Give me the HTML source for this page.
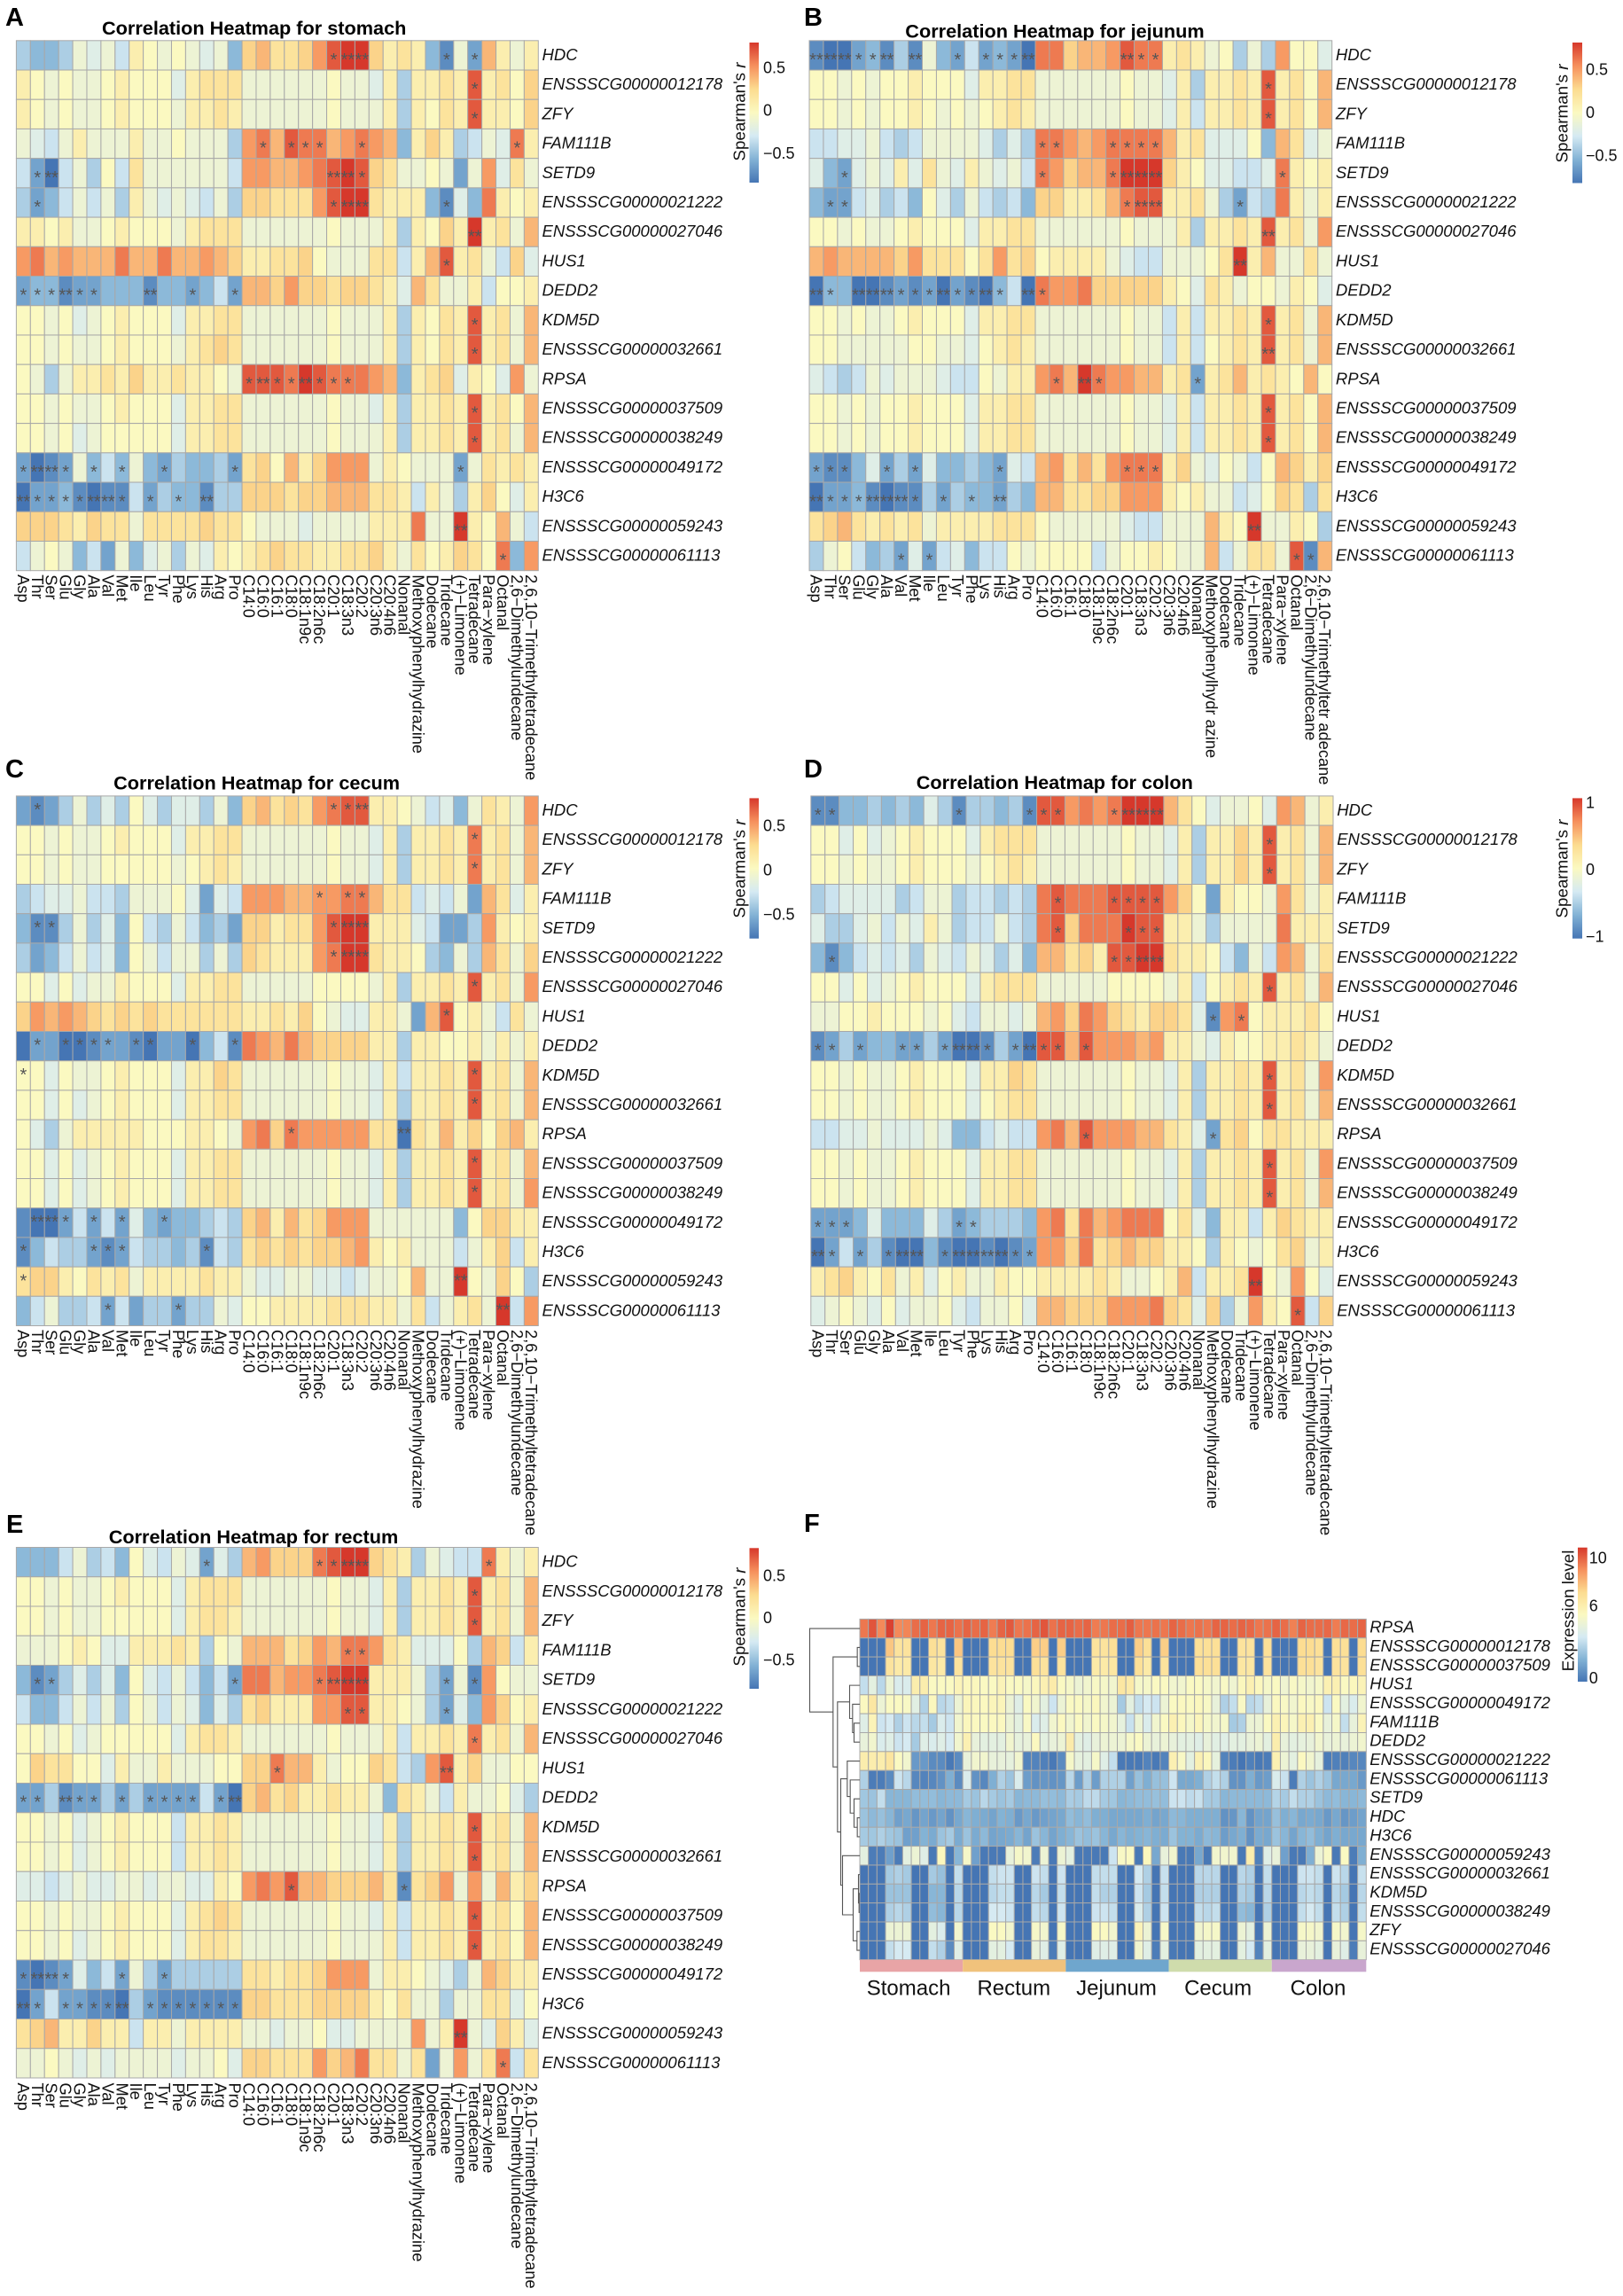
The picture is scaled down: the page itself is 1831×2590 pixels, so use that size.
<!DOCTYPE html>
<html lang="en">
<head>
<meta charset="utf-8">
<title>Correlation heatmaps</title>
<style>
html,body{margin:0;padding:0;background:#fff;width:1831px;height:2590px;overflow:hidden}
svg{display:block;font-family:"Liberation Sans",sans-serif}
.letter{font-weight:700;font-size:29px;fill:#000}
.title{font-weight:700;font-size:21.7px;fill:#000;text-anchor:middle}
.rowl{font-style:italic;font-size:18.5px;fill:#111;dominant-baseline:central}
.coll{font-size:18.25px;fill:#111;dominant-baseline:central}
.tick{font-size:18px;fill:#111;dominant-baseline:central}
.ltitle{font-size:18.8px;fill:#111;text-anchor:middle}
.star{font-size:20px;fill:#555;text-anchor:middle}
.group{font-size:24px;fill:#111;text-anchor:middle;dominant-baseline:central}
</style>
</head>
<body>
<svg id="figure" xmlns="http://www.w3.org/2000/svg" width="1831" height="2590" viewBox="0 0 1831 2590">
<defs>
<linearGradient id="ramp" x1="0" y1="1" x2="0" y2="0">
<stop offset="0" stop-color="#4575b4"/><stop offset=".1667" stop-color="#82b2d5"/><stop offset=".3333" stop-color="#d5eaf3"/><stop offset=".5" stop-color="#fbf9c1"/><stop offset=".6667" stop-color="#fcdc90"/><stop offset=".8333" stop-color="#f6905d"/><stop offset="1" stop-color="#d6382b"/>
</linearGradient>
</defs>
<rect width="1831" height="2590" fill="#fff"/>
<text class="letter" x="6" y="29">A</text>
<text class="letter" x="907" y="29">B</text>
<text class="letter" x="6" y="877">C</text>
<text class="letter" x="907" y="877">D</text>
<text class="letter" x="7" y="1729">E</text>
<text class="letter" x="907" y="1728">F</text>
<text class="title" x="286.7" y="39">Correlation Heatmap for stomach</text>
<text class="title" x="1190" y="42.5">Correlation Heatmap for jejunum</text>
<text class="title" x="289.6" y="890.5">Correlation Heatmap for cecum</text>
<text class="title" x="1189.8" y="890">Correlation Heatmap for colon</text>
<text class="title" x="286" y="1741">Correlation Heatmap for rectum</text>
<g id="panel-stomach"></g>
<g id="panel-jejunum"></g>
<g id="panel-cecum"></g>
<g id="panel-colon"></g>
<g id="panel-rectum"></g>
<g id="panel-expression"></g>
</svg>
<script>
const genes = ["HDC","ENSSSCG00000012178","ZFY","FAM111B","SETD9","ENSSSCG00000021222","ENSSSCG00000027046","HUS1","DEDD2","KDM5D","ENSSSCG00000032661","RPSA","ENSSSCG00000037509","ENSSSCG00000038249","ENSSSCG00000049172","H3C6","ENSSSCG00000059243","ENSSSCG00000061113"];
const metabolites = ["Asp","Thr","Ser","Glu","Gly","Ala","Val","Met","Ile","Leu","Tyr","Phe","Lys","His","Arg","Pro","C14:0","C16:0","C16:1","C18:0","C18:1n9c","C18:2n6c","C20:1","C18:3n3","C20:2","C20:3n6","C20:4n6","Nonanal","Methoxyphenylhydrazine","Dodecane","Tridecane","(+)\u2212Limonene","Tetradecane","Para\u2212xylene","Octanal","2,6\u2212Dimethylundecane","2,6,10\u2212Trimethyltetradecane"];
const metabolitesWrapped = ["Asp","Thr","Ser","Glu","Gly","Ala","Val","Met","Ile","Leu","Tyr","Phe","Lys","His","Arg","Pro","C14:0","C16:0","C16:1","C18:0","C18:1n9c","C18:2n6c","C20:1","C18:3n3","C20:2","C20:3n6","C20:4n6","Nonanal","Methoxyphenylhydr azine","Dodecane","Tridecane","(+)\u2212Limonene","Tetradecane","Para\u2212xylene","Octanal","2,6\u2212Dimethylundecane","2,6,10\u2212Trimethyltetr adecane"];
const stomachValues = [
[-4,-5,-5,-4,-1,-2,-1,-3,1,0,-1,0,-1,-2,-1,-5, 3,4,2,2,3,5,7,8,8,3,1, 2,1,-5,-7,-1,-6,4,1,-1,1],
[1,0,-1,0,-1,-1,0,1,0,0,0,-2,1,2,2,2, -1,-1,-1,-1,-1,-1,0,-1,-1,-2,1, -4,1,1,2,1,7,1,2,0,3],
[1,0,-1,0,-1,-1,0,1,0,0,0,-1,1,1,2,1, -1,-1,-1,-1,-1,-1,0,-1,-1,-1,1, -4,1,0,2,1,7,1,1,0,3],
[-1,-2,-3,-1,1,-1,-1,-1,1,-1,-1,0,-1,-1,-1,-4, 5,6,4,7,6,6,4,5,6,5,4, -5,1,3,1,-4,-3,-1,-2,6,1],
[-3,-6,-8,-3,-1,-4,0,-3,2,-1,-1,-1,-1,-1,-1,-3, 5,5,4,4,5,6,7,8,7,3,2, -1,-1,0,-1,-6,-1,5,-2,2,-1],
[-4,-6,-5,-3,-1,-3,-1,-4,1,-1,-2,-1,-2,-3,-1,-4, 3,3,2,2,2,5,7,8,8,2,1, 1,1,-5,-7,-2,-5,6,1,0,1],
[1,1,0,1,-1,-1,0,1,0,0,0,-1,1,2,2,2, -1,-1,-1,-1,-1,-1,0,-1,-1,-1,1, -4,1,0,3,1,8,1,2,-1,4],
[5,6,4,5,4,4,4,6,4,4,6,4,4,5,4,3, 1,1,2,2,3,0,-1,-1,-1,2,2, -3,1,4,7,1,2,-1,-3,3,-2],
[-6,-5,-5,-7,-6,-6,-5,-5,-5,-7,-5,-5,-6,-5,-3,-6, 4,4,3,5,3,3,2,3,3,2,1, -2,4,2,-1,-1,1,-3,0,0,1],
[0,0,-1,0,-2,-1,0,1,0,0,0,-2,1,1,2,2, -1,-1,-1,-1,-1,-1,0,-1,-1,-1,1, -4,1,0,2,1,7,1,2,-1,4],
[0,0,-1,0,-1,-1,0,1,0,0,0,-1,1,2,3,2, -1,-1,-1,-1,-1,-1,0,-1,-1,-1,1, -4,1,0,2,1,7,1,2,-1,4],
[0,-1,-4,-1,1,1,2,1,3,1,1,2,1,1,0,-1, 7,7,7,6,8,7,6,6,6,5,4, -5,1,2,3,-2,1,0,-2,5,-1],
[0,0,-1,0,-1,-1,0,1,0,0,0,-2,1,1,2,2, -1,-1,-1,-1,-1,-1,0,-1,-1,-2,1, -4,1,1,2,1,7,1,2,0,4],
[0,0,-1,0,-2,-1,0,0,0,0,0,-2,1,1,2,2, -1,-1,-1,-1,-1,-1,0,-1,-1,-1,1, -4,1,1,2,1,7,1,2,-1,4],
[-6,-8,-7,-6,-1,-5,-3,-5,-1,-5,-6,-4,-5,-5,-4,-6, 2,3,0,4,1,3,5,5,5,-1,1, 0,-1,-1,-1,-6,-1,2,1,2,1],
[-8,-6,-6,-5,-7,-8,-7,-7,-3,-6,-4,-5,-5,-7,-4,-4, 3,3,3,2,3,3,4,4,4,2,2, 1,-3,1,-1,-4,1,3,0,-2,1],
[3,3,3,2,1,3,2,2,-1,2,2,2,2,3,2,2, 0,-1,-1,-1,-2,-1,-1,-1,-1,1,1, 1,6,-1,-1,8,1,0,4,-1,-3],
[-3,-1,0,-1,-5,-3,-6,-1,-5,-2,-1,-4,-1,-2,1,0, 1,2,3,2,2,1,1,2,2,3,1, -1,2,0,1,3,2,0,6,-5,5]
];
const stomachStars = [[0,22,1],[0,23,2],[0,24,2],[0,30,1],[0,32,1],[1,32,1],[2,32,1],[3,17,1],[3,19,1],[3,20,1],[3,21,1],[3,24,1],[3,35,1],[4,1,1],[4,2,2],[4,22,2],[4,23,2],[4,24,1],[5,1,1],[5,22,1],[5,23,2],[5,24,2],[5,30,1],[6,32,2],[7,30,1],[8,0,1],[8,1,1],[8,2,1],[8,3,2],[8,4,1],[8,5,1],[8,9,2],[8,12,1],[8,15,1],[9,32,1],[10,32,1],[11,16,1],[11,17,2],[11,18,1],[11,19,1],[11,20,2],[11,21,1],[11,22,1],[11,23,1],[12,32,1],[13,32,1],[14,0,1],[14,1,2],[14,2,2],[14,3,1],[14,5,1],[14,7,1],[14,10,1],[14,15,1],[14,31,1],[15,0,2],[15,1,1],[15,2,1],[15,3,1],[15,4,1],[15,5,2],[15,6,2],[15,7,1],[15,9,1],[15,11,1],[15,13,2],[16,31,2],[17,34,1]];
const jejunumValues = [
[-7,-8,-8,-6,-5,-7,-4,-7,-1,-5,-6,-3,-6,-5,-6,-8, 6,6,3,4,4,5,7,6,6,1,2, 1,-1,0,-4,-1,-4,5,0,0,-2],
[0,0,-1,0,-1,0,0,1,0,0,0,-2,1,1,2,2, -1,-1,-1,-1,-1,-1,0,-1,-1,-2,1, -4,1,1,2,1,7,1,2,0,4],
[0,0,-1,0,-1,0,0,1,0,-1,0,-1,0,1,2,1, -1,-1,-1,-1,-1,-1,0,-1,-1,-2,1, -3,1,1,2,1,7,1,2,0,4],
[-3,-3,-2,-2,-1,-3,-4,-3,-1,-1,-1,-1,-2,-4,-2,-4, 6,6,5,4,5,6,6,6,6,4,1, 2,-2,-2,-2,0,-5,4,2,-2,-1],
[-2,-5,-6,-2,-1,-2,1,-2,2,-1,-2,1,-1,-2,-1,-3, 6,5,3,4,4,6,8,8,8,3,1, 0,-2,-2,-3,-3,-2,6,1,0,1],
[-5,-6,-6,-3,-2,-4,-3,-5,0,-2,-4,-1,-3,-4,-3,-5, 3,3,1,1,2,4,6,7,7,1,1, 2,-1,-4,-6,-3,-4,6,1,-1,1],
[0,0,-1,0,-1,-1,0,1,0,0,0,-2,1,1,2,2, -1,-1,-1,-1,-1,-1,0,-1,-1,-1,1, -4,1,1,2,1,7,1,2,-1,5],
[4,5,4,4,4,4,3,5,2,2,2,0,2,5,2,3, 0,1,1,1,1,-1,-2,-3,-3,-1,-1, -1,0,2,8,1,4,-1,-1,2,-1],
[-8,-5,-5,-8,-8,-7,-6,-7,-6,-8,-6,-7,-8,-5,-3,-8, 6,5,5,6,3,3,3,3,3,1,0, -2,2,1,-1,0,0,-1,1,0,-2],
[0,0,-1,0,-1,-1,0,1,0,0,0,-2,1,1,2,2, -1,-1,-1,-1,-1,-1,0,-1,-1,-3,1, -3,1,1,2,1,7,1,2,-1,4],
[0,0,-1,-1,-1,-1,-1,0,0,-1,-1,-2,0,1,2,1, -1,-1,-1,-1,-1,-1,0,-1,-1,-3,1, -3,0,1,2,1,7,1,2,-1,4],
[-2,-3,-4,-3,-1,-2,-1,-1,-1,-2,-3,-3,0,-1,1,1, 5,6,4,8,6,5,5,4,4,1,2, -6,1,2,4,1,2,1,0,4,0],
[0,0,-1,0,-1,0,0,1,0,0,0,-2,1,1,2,2, -1,-1,-1,-1,-1,-1,0,-1,-1,-2,1, -3,1,1,2,1,7,1,2,0,4],
[0,0,-1,0,-1,0,0,1,0,0,0,-2,1,1,2,2, -1,-1,-1,-1,-1,-1,0,-1,-1,-2,1, -3,1,1,2,1,7,1,2,0,4],
[-6,-7,-7,-5,-2,-6,-4,-6,-2,-5,-5,-4,-5,-6,-2,-3, 4,5,2,4,2,5,6,6,6,1,3, -1,-2,0,-1,-3,0,4,3,1,3],
[-8,-6,-6,-5,-7,-8,-7,-7,-4,-6,-4,-5,-5,-6,-4,-5, 4,4,2,2,3,3,5,5,5,1,0, 1,-1,-1,-3,-2,0,3,2,-4,2],
[2,3,4,2,1,2,1,2,-1,1,1,1,1,2,2,2, 0,-1,-1,-1,-1,-1,-2,-3,-3,-1,-1, -1,4,1,0,8,-1,-1,1,0,-4],
[-4,-1,0,-3,-5,-4,-6,-2,-6,-3,-2,-5,-3,-3,0,-1, 0,0,0,0,-3,-1,0,0,1,0,-1, -1,4,-3,-1,2,2,-1,7,-7,4]
];
const jejunumStars = [[0,0,2],[0,1,2],[0,2,2],[0,3,1],[0,4,1],[0,5,2],[0,7,2],[0,10,1],[0,12,1],[0,13,1],[0,14,1],[0,15,2],[0,22,2],[0,23,1],[0,24,1],[1,32,1],[2,32,1],[3,16,1],[3,17,1],[3,21,1],[3,22,1],[3,23,1],[3,24,1],[4,2,1],[4,16,1],[4,21,1],[4,22,2],[4,23,2],[4,24,2],[4,33,1],[5,1,1],[5,2,1],[5,22,1],[5,23,2],[5,24,2],[5,30,1],[6,32,2],[7,30,2],[8,0,2],[8,1,1],[8,3,2],[8,4,2],[8,5,2],[8,6,1],[8,7,1],[8,8,1],[8,9,2],[8,10,1],[8,11,1],[8,12,2],[8,13,1],[8,15,2],[8,16,1],[9,32,1],[10,32,2],[11,17,1],[11,19,2],[11,20,1],[11,27,1],[12,32,1],[13,32,1],[14,0,1],[14,1,1],[14,2,1],[14,5,1],[14,7,1],[14,13,1],[14,22,1],[14,23,1],[14,24,1],[15,0,2],[15,1,1],[15,2,1],[15,3,1],[15,4,2],[15,5,2],[15,6,2],[15,7,1],[15,9,1],[15,11,1],[15,13,2],[16,31,2],[17,6,1],[17,8,1],[17,34,1],[17,35,1]];
const cecumValues = [
[-6,-7,-6,-4,-1,-4,-2,-4,0,-2,-4,-2,-2,-4,-1,-5, 3,4,2,3,2,5,6,7,7,1,1, 0,-1,-3,-2,-5,-1,2,1,-1,5],
[0,0,-1,0,-1,-1,0,1,0,0,0,-2,1,1,2,2, -1,-1,-1,-1,-1,-1,0,-1,-1,-2,1, -4,1,1,2,1,6,1,2,-1,4],
[0,0,-1,0,-1,-1,0,0,0,0,0,-1,0,1,2,1, -1,-1,-1,-1,-1,-1,0,-1,-1,-2,1, -4,1,1,2,1,6,1,2,-1,4],
[-4,-3,-2,-2,-1,-3,-3,-4,-1,-1,-1,0,-2,-6,-2,-3, 5,5,5,4,4,5,5,6,6,4,2, 2,-3,-2,-3,-1,-6,4,2,-2,1],
[-5,-7,-7,-4,-1,-4,-2,-5,0,-3,-4,-1,-3,-5,-4,-6, 3,3,1,2,2,5,7,8,8,1,1, 1,-2,-3,-6,-6,-4,5,1,0,1],
[-4,-6,-5,-3,-1,-3,-2,-5,0,-1,-3,-1,-1,-4,-1,-4, 3,2,1,1,1,5,6,8,8,2,1, 1,0,-4,-5,-1,-4,4,2,-1,3],
[0,0,-2,0,-2,-1,-1,1,0,0,0,-2,1,1,2,2, -1,-1,-1,-1,-1,0,0,0,0,-1,1, -4,1,1,2,1,7,1,2,-1,5],
[3,5,4,5,4,3,2,3,2,3,2,2,2,2,2,2, 1,1,2,1,3,0,-1,-2,-2,1,1, -1,-6,4,7,0,1,-1,-3,2,-1],
[-8,-6,-6,-8,-8,-7,-6,-6,-7,-8,-6,-6,-8,-5,-3,-7, 6,5,4,6,4,3,3,3,3,1,1, -4,1,1,0,0,1,-1,1,-1,1],
[0,0,-2,0,-1,-1,0,1,0,0,0,-2,1,1,3,2, -1,-1,-1,-1,-1,-1,0,-1,-1,-2,1, -3,1,1,2,1,7,1,2,-1,4],
[0,0,-2,0,-2,-1,0,1,0,0,0,-2,1,1,2,2, -1,-1,-1,-1,-1,-1,0,-1,-1,-2,1, -4,1,1,2,1,7,1,2,-1,4],
[0,-2,-4,-1,1,1,1,1,1,0,0,0,1,1,0,-1, 5,6,3,6,5,5,5,5,5,2,2, -8,2,1,4,1,3,0,3,4,1],
[0,0,-2,0,-2,-1,0,1,0,0,0,-2,1,1,2,2, -1,-1,-1,-1,-1,-1,0,-1,-1,-2,1, -4,1,1,2,1,7,1,2,-1,4],
[0,0,-2,0,-2,-1,0,1,0,0,0,-2,1,1,2,2, -1,-1,-1,-1,-1,-1,0,-1,-1,-2,1, -4,1,1,2,1,7,1,2,-1,5],
[-7,-8,-8,-6,-3,-6,-3,-6,-2,-5,-6,-5,-5,-4,-3,-4, 3,4,1,4,2,3,5,5,5,-1,-1, -1,-1,-1,-1,-5,0,3,3,1,1],
[-7,-5,-3,-4,-4,-6,-7,-6,-3,-4,-4,-5,-4,-7,-3,-4, 2,3,2,3,2,3,3,4,5,1,0, 1,-1,-1,-1,-3,-1,1,3,-3,1],
[2,3,3,1,0,2,1,2,-1,1,1,1,1,2,1,1, -1,-2,-2,-1,-1,-2,-2,-3,-2,-1,-1, 0,4,-1,-1,8,0,-1,3,0,-4],
[-5,-3,-1,-4,-4,-3,-6,-3,-6,-4,-4,-6,-4,-4,-1,-2, 0,0,1,1,1,1,2,2,2,1,1, -1,2,-3,-1,1,2,-1,8,-3,5]
];
const cecumStars = [[0,1,1],[0,22,1],[0,23,1],[0,24,2],[1,32,1],[2,32,1],[3,21,1],[3,23,1],[3,24,1],[4,1,1],[4,2,1],[4,22,1],[4,23,2],[4,24,2],[5,22,1],[5,23,2],[5,24,2],[6,32,1],[7,30,1],[8,1,1],[8,3,1],[8,4,1],[8,5,1],[8,6,1],[8,8,1],[8,9,1],[8,12,1],[8,15,1],[9,0,1],[9,32,1],[10,32,1],[11,19,1],[11,27,2],[12,32,1],[13,32,1],[14,1,2],[14,2,2],[14,3,1],[14,5,1],[14,7,1],[14,10,1],[15,0,1],[15,5,1],[15,6,1],[15,7,1],[15,13,1],[16,0,1],[16,31,2],[17,6,1],[17,11,1],[17,34,2]];
const colonValues = [
[-7,-7,-5,-5,-4,-5,-4,-5,-2,-4,-7,-4,-4,-5,-4,-7, 7,7,5,6,5,6,8,8,8,4,2, 0,-2,-1,-1,0,-2,5,4,-1,1],
[0,0,-2,0,-2,-1,0,1,0,0,0,-2,1,2,2,2, -1,-1,-1,-1,-1,-1,0,-1,-1,-2,1, -4,1,1,3,1,7,1,2,-1,4],
[0,0,-1,0,-1,-1,0,1,0,0,0,-1,0,1,2,1, -1,-1,-1,-1,-1,-1,0,-1,-1,-2,1, -4,1,1,3,1,7,1,2,-1,4],
[-4,-3,-2,-2,-2,-2,-4,-3,-1,-1,-4,-3,-3,-4,-3,-4, 6,7,6,6,6,7,7,7,7,5,3, 0,-6,1,0,0,-1,5,2,-1,1],
[-2,-4,-4,-2,-1,-3,-1,-2,1,-1,-4,-3,-3,-1,-3,-4, 6,7,3,6,6,6,8,7,7,1,1, -1,-4,-1,-1,-1,-1,6,1,1,1],
[-5,-7,-5,-3,-2,-3,-2,-4,-1,-2,-3,-1,-2,-4,-2,-5, 4,4,2,3,1,7,7,8,8,2,1, 1,0,-3,-5,-1,-3,5,4,-1,2],
[0,0,-2,0,-2,-1,0,1,0,0,0,-2,1,2,2,2, -1,-1,-1,-1,-1,0,0,0,0,-1,1, -3,0,1,2,1,7,1,2,-1,4],
[-1,-1,0,0,1,0,0,0,-1,0,-2,-3,-1,-1,-2,-1, 4,5,3,6,5,3,2,1,3,3,2, -2,-7,5,6,0,1,1,1,2,0],
[-7,-6,-4,-6,-5,-5,-6,-6,-4,-6,-8,-8,-7,-4,-6,-8, 7,7,4,7,5,5,5,4,5,1,1, -1,-2,1,0,0,1,1,2,1,-1],
[0,0,-1,0,-1,-1,0,1,0,0,0,-2,1,1,3,2, -1,-1,-1,-1,-1,-1,0,-1,-1,-2,1, -4,1,1,2,1,7,1,2,-1,5],
[0,0,-1,0,-1,-1,0,1,0,0,0,-2,0,1,2,2, -1,-1,-1,-1,-1,-1,0,-1,-1,-2,1, -4,1,1,2,1,7,1,2,-1,4],
[-3,-3,-2,-2,-1,-2,-2,-2,-1,-2,-5,-5,-3,-2,-3,-3, 5,6,4,7,5,5,5,4,4,2,1, -2,-6,2,3,0,2,2,1,1,1],
[0,0,-1,0,-1,-1,0,1,0,0,0,-2,1,1,2,2, -1,-1,-1,-1,-1,-1,0,-1,-1,-2,1, -4,1,1,2,1,7,1,2,-1,5],
[0,0,-1,0,-1,-1,0,1,0,0,0,-2,1,1,2,2, -1,-1,-1,-1,-1,-1,0,-1,-1,-2,1, -4,1,1,2,1,7,1,2,-1,4],
[-6,-6,-6,-5,-2,-5,-5,-5,-2,-4,-6,-5,-4,-4,-4,-5, 5,6,2,6,4,5,6,6,6,0,2, -2,-5,1,1,-3,1,3,2,1,1],
[-8,-6,-3,-6,-4,-7,-8,-8,-5,-7,-8,-8,-7,-8,-7,-6, 5,5,3,6,2,3,4,3,3,1,1, 0,-4,1,0,-1,0,2,3,-1,1],
[1,2,3,1,0,2,-1,1,-2,0,1,-1,-1,1,0,0, 1,1,1,1,2,1,-1,-1,0,1,4, -3,1,1,2,8,0,-1,5,0,-2],
[-2,-1,0,-1,-2,0,-2,-1,-1,0,-2,-3,-1,-1,0,-2, 4,4,3,3,3,5,5,5,6,3,2, -2,3,-4,-1,5,1,0,7,-3,3]
];
const colonStars = [[0,0,1],[0,1,1],[0,10,1],[0,15,1],[0,16,1],[0,17,1],[0,21,1],[0,22,2],[0,23,2],[0,24,2],[1,32,1],[2,32,1],[3,17,1],[3,21,1],[3,22,1],[3,23,1],[3,24,1],[4,17,1],[4,22,1],[4,23,1],[4,24,1],[5,1,1],[5,21,1],[5,22,1],[5,23,2],[5,24,2],[6,32,1],[7,28,1],[7,30,1],[8,0,1],[8,1,1],[8,3,1],[8,6,1],[8,7,1],[8,9,1],[8,10,2],[8,11,2],[8,12,1],[8,14,1],[8,15,2],[8,16,1],[8,17,1],[8,19,1],[9,32,1],[10,32,1],[11,19,1],[11,28,1],[12,32,1],[13,32,1],[14,0,1],[14,1,1],[14,2,1],[14,10,1],[14,11,1],[15,0,2],[15,1,1],[15,3,1],[15,5,1],[15,6,2],[15,7,2],[15,9,1],[15,10,2],[15,11,2],[15,12,2],[15,13,2],[15,14,1],[15,15,1],[16,31,2],[17,34,1]];
const rectumValues = [
[-5,-5,-5,-3,-1,-4,-3,-5,0,-2,-3,-1,-2,-6,-2,-4, 4,5,3,3,3,6,7,8,8,3,2, 1,-4,-1,-2,-3,-3,6,1,-1,1],
[0,0,-1,0,-1,-1,0,1,0,0,0,-2,1,2,2,2, -1,-1,-1,-1,-1,-1,0,-1,-1,-2,1, -4,1,1,2,1,7,1,2,-1,4],
[0,0,-1,0,-1,-1,0,0,0,0,0,-2,1,2,2,1, -1,-1,-1,-1,-1,-1,0,-1,-1,-2,1, -4,1,1,2,1,7,1,2,-1,4],
[-1,-1,-1,0,1,0,-2,-2,1,1,1,2,1,-4,0,-1, 4,4,4,2,3,5,4,6,6,5,2, 1,-2,-2,-2,0,-4,4,3,-3,1],
[-5,-7,-6,-4,-2,-4,-2,-5,0,-2,-3,-1,-3,-5,-3,-6, 6,6,4,5,5,6,7,8,8,1,1, 1,-1,-4,-6,-1,-7,5,0,-1,-1],
[-3,-5,-5,-3,-1,-3,-1,-4,0,-1,-3,-1,-2,-5,-2,-4, 2,3,1,1,1,5,5,7,7,1,1, 0,-1,-4,-6,-2,-5,5,3,0,1],
[0,0,-1,0,-2,-1,0,0,0,0,0,-2,1,2,2,1, -1,-1,-1,-1,-1,-1,0,-1,-1,-1,1, -3,1,1,2,1,6,1,2,-1,4],
[0,3,2,2,0,0,-2,1,-1,-1,1,-1,-1,-1,0,0, 3,3,6,4,4,1,-1,0,0,3,2, -3,-4,5,7,1,3,-1,-1,0,0],
[-6,-6,-4,-7,-6,-6,-4,-6,-4,-6,-6,-6,-6,-3,-6,-8, 3,4,2,3,1,1,2,1,1,-1,-5, 2,1,-1,-3,1,-1,-1,0,-2,-4],
[0,0,-1,0,-2,-1,0,1,0,0,0,-3,1,1,2,1, -1,-1,-1,-1,-1,-1,0,-1,-1,-2,1, -4,1,1,2,1,7,1,2,-1,4],
[0,0,-1,0,-2,-1,0,1,0,0,0,-3,1,1,2,1, -1,-1,-1,-1,-1,-1,0,-1,-1,-2,1, -4,1,1,2,1,7,1,2,-1,4],
[-2,-2,-3,-2,-1,-2,-2,-1,-1,-2,-1,-1,-2,-2,1,0, 5,6,5,7,4,4,3,3,3,4,2, -7,2,3,5,-1,5,-1,4,1,3],
[0,0,-1,0,-1,-1,0,1,0,0,0,-2,1,2,3,2, -1,-1,-1,-1,-1,-1,0,-1,-1,-2,1, -3,1,1,2,1,7,1,2,0,4],
[0,0,-1,0,-2,-1,0,1,0,0,0,-2,1,2,2,1, -1,-1,-1,-1,-1,-1,0,-1,-1,-1,1, -3,1,1,2,1,7,1,2,0,4],
[-7,-8,-7,-6,-2,-5,-3,-6,-1,-4,-6,-4,-4,-4,-4,-4, 2,2,1,2,2,3,5,5,5,-1,1, 1,0,-1,-2,-4,-1,4,3,1,1],
[-8,-6,-3,-6,-6,-7,-7,-8,-4,-6,-7,-7,-7,-7,-7,-7, 3,3,2,2,2,3,3,3,3,1,0, 2,-1,-1,-4,-1,-1,2,2,-2,0],
[2,3,4,1,1,3,1,1,-3,1,1,-1,1,1,1,1, -1,-1,-2,-1,-1,0,-2,-2,-1,-1,-1, -1,5,-1,1,8,-1,-2,3,1,-2],
[-1,-1,0,-1,-2,-1,-2,-1,-1,-1,-1,-2,-1,-1,0,-2, 3,3,2,2,2,5,3,4,6,2,2, -1,2,-6,-1,5,-1,2,6,-3,2]
];
const rectumStars = [[0,13,1],[0,21,1],[0,22,1],[0,23,2],[0,24,2],[0,33,1],[1,32,1],[2,32,1],[3,23,1],[3,24,1],[4,1,1],[4,2,1],[4,15,1],[4,21,1],[4,22,2],[4,23,2],[4,24,2],[4,30,1],[4,32,1],[5,23,1],[5,24,1],[5,30,1],[6,32,1],[7,18,1],[7,30,2],[8,0,1],[8,1,1],[8,3,2],[8,4,1],[8,5,1],[8,7,1],[8,9,1],[8,10,1],[8,11,1],[8,12,1],[8,14,1],[8,15,2],[9,32,1],[10,32,1],[11,19,1],[11,27,1],[12,32,1],[13,32,1],[14,0,1],[14,1,2],[14,2,2],[14,3,1],[14,7,1],[14,10,1],[15,0,2],[15,1,1],[15,3,1],[15,4,1],[15,5,1],[15,6,1],[15,7,2],[15,9,1],[15,10,1],[15,11,1],[15,12,1],[15,13,1],[15,14,1],[15,15,1],[16,31,2],[17,34,1]];

const expressionGenes = ["RPSA","ENSSSCG00000012178","ENSSSCG00000037509","HUS1","ENSSSCG00000049172","FAM111B","DEDD2","ENSSSCG00000021222","ENSSSCG00000061113","SETD9","HDC","H3C6","ENSSSCG00000059243","ENSSSCG00000032661","KDM5D","ENSSSCG00000038249","ZFY","ENSSSCG00000027046"];
const expressionValues = [
[9.6,10.3,9.2,10.7,9.2,9.3,9.8,10,9.6,10,10,9.7, 10,9.8,10,9.5,10,10.2,9.6,9.7,10,10.3,9.7,10, 10,9.8,10,9.5,9.6,9.8,9.8,10.1,9.6,9.6,9.7,9.6, 10,9.8,9.6,9.7,9.6,10,10,9.8,10,9.9,9.6,9.7, 10,9.8,9.4,10,9.8,9.8,9.9,9.5,9.9,9.8,10],
[.3,.3,.3,7.8,6.8,6.8,.3,.3,7,6.8,.3,7.8, .3,.3,.3,7.2,7.2,7.2,.3,.3,7.6,7.6,.3,7.6, .3,.3,.3,6.8,6.8,7,.3,.3,7.6,7,.3,7.6, .3,.3,.3,7,7,7,.3,.3,6.8,6.8,.3,7, .3,.3,.3,7.2,7.2,7,.3,7,7,.3,7.2],
[.3,.3,.3,6.8,6.4,6.4,.3,.3,6.6,6.4,.3,6.8, .3,.3,.3,6.8,6.8,6.8,.3,.3,7,6.8,.3,6.8, .3,.3,.3,6.4,6.4,6.6,.3,.3,7,6.4,.3,6.8, .3,.3,.3,7,7,7,.3,.3,6.6,6.6,.3,6.8, .3,.3,.3,7,7,6.8,.3,6.8,6.8,.3,7],
[3.4,4.4,3.2,4.8,4,4,6.2,6.2,5.4,5.4,5.4,5.8, 5.6,5.6,5.4,5.4,5.8,5.4,5.4,5.2,5.6,6,6.3,5.4, 5.2,4.8,5,5.3,5.2,5,6.6,6.4,5.2,5.2,5.4,5.4, 5,5,5.4,5.4,5.2,5,5.3,4.9,5.6,6,5.6,5.2, 5.4,4.9,5.3,5.2,5,5.2,6,6,5.4,5.6,5.8],
[5.5,6.6,4.8,5.4,5.4,5.3,4.3,3,5.6,3.2,3.4,4.8, 5.7,5.6,5.5,5.7,5.7,4.8,4.2,5.4,5,4.4,3.6,4.8, 5.4,5.4,5.2,5.6,5,4.8,2.8,4.4,3.4,3.8,3.6,4.8, 5.4,5.5,5.4,5.6,5.3,4.6,3,3.4,5.3,3.2,3.4,4.6, 5.5,5.3,5,5.5,5.3,5.5,3.6,5.4,4.4,4,5],
[4.2,5.8,3.6,3.8,3,3.6,3.2,3.4,2.8,4,3.6,5, 5.6,5.5,5.4,5.5,5.5,4.8,4.4,5.3,4,4.2,5,5.5, 5,5.4,5,5.4,5.2,5,4.5,3.5,4.8,4,5,5.4, 6,5.6,5.2,5.7,5.2,5,5.2,2.8,3,4.8,4.8,5.4, 6,5.7,5.2,6,6,5.4,4.6,5.2,3.4,4.6,5.8],
[4.6,5,4,4.2,3.6,3.8,2.8,4.2,4,4.2,3.8,5, 6,4.6,4.4,4.4,4.4,5,4.5,4.6,5.5,4.4,4.6,4.8, 6.3,4.4,4.2,4.6,4.8,4.8,4.8,5.2,5.4,4.8,4.6,4.8, 4.6,4.4,4.4,4.2,4.6,4.3,4.2,4.4,4.4,4.6,4.8,4.4, 6.2,4.6,4.4,4.5,4.6,5,4.6,4.8,4.6,4.8,5],
[6.2,6.2,6.2,6.7,5.4,5,1.4,1.4,1,1,.5,1, 4.6,5,5,4.6,4.6,4.5,5,.8,.8,.7,.5,1, 5.2,4.5,4.4,5.2,4.2,3.4,.5,.5,.5,.8,.5,.8, 6,5.3,4.4,6,5.6,4.5,.8,.6,.4,.7,.5,.6, 6,4.8,4.4,5.5,5,4.5,.6,.7,.7,.9,.9],
[3,.6,.6,1,3.6,3.2,.9,.8,.9,1.2,2,1, 4,1.2,.9,2,3,2.6,4,1.5,1.2,1.3,1.2,1.3, 3.2,1.5,3,1.5,3,3,3,1.6,2.5,2,2.5,2.5, 3.6,1.8,1.8,2,3,3.4,3,1.2,1.2,2,1.4,1.5, 4,3.5,.6,3,2.6,3,2.6,1.8,1.8,1.8,1.4],
[2.7,2.6,3.4,2.2,2.2,2.2,2.4,2.4,2.4,2.2,2.3,2.3, 2.8,2.6,3.2,2.8,2.6,2.8,2.2,2.3,2.3,2.5,2.4,2.3, 2.9,2.8,3.3,3.3,2.8,2.7,2.2,2.3,2.4,2.4,2.5,2.4, 3.6,3.6,3.3,3.5,2.8,2.8,2.2,2.3,2.3,2.3,2.3,2.3, 3.1,2.8,3.4,3,3,2.6,2.3,2.4,2.2,2.2,2.3],
[2.6,2.3,2.5,2.2,1.6,1.8,1.3,1.7,1.4,1.7,1.2,1.8, 2.2,2,1.9,1.7,2.1,2,1.4,1.8,1.4,1.6,1.7,1.8, 2.4,2.2,2.4,2,2,1.8,1.8,1.8,1.8,2,1.7,1.8, 2.3,2.2,2,2,2,2,1.2,1.3,2.2,1.2,1.7,1.7, 2.5,2,2.2,1.8,1.9,1.8,1.4,1.8,1.3,1.5,1.7],
[2.8,2.7,3,2.7,2.6,1.6,1.6,2.1,1.9,2.6,2.8,1.9, 2.6,1.9,2.3,1.7,1.8,1.9,2.2,1.7,2.6,2.2,1.7,2, 2.2,2.6,2.4,2.6,2.2,1.8,2.2,2,2.1,2.2,2,1.9, 2.6,2.1,2.1,1.9,2.3,2.2,1.5,1.8,2,1.2,1.9,1.8, 2.6,2.2,1.7,2.2,2.4,2,1.7,2,1.8,1.8,1.8],
[4.4,.6,.6,1.6,.6,4.4,4.8,4.2,.5,5.6,.5,2.2, 5.2,1.6,.5,.5,.5,4.6,5.2,5,.6,4.8,.5,4.8, 4.4,.5,.5,.5,.5,3.6,5.3,5.4,.5,5.6,1.8,4.6, 5,.5,.5,1.8,.5,5,5,5,.5,6.2,.7,4.2, 4.6,1.6,.5,.5,2,4.8,5.3,.5,5.4,.6,2],
[.3,.3,.3,2.8,3,2.8,.3,.3,2.8,2.5,.3,3.4, .3,.3,.3,3.4,3.6,3.6,.3,.3,3.6,3.4,.3,3.6, .3,.3,.3,3.4,3.4,3.4,.3,.3,3.8,3,.3,3.5, .3,.3,.3,3.2,3.2,3.2,.3,.3,3.2,3,.3,3.4, .3,.3,.3,3.6,3.6,3.4,.3,3.6,3.2,.3,3.5],
[.3,.3,.3,2.6,2.6,2.6,.3,.3,2.2,2.2,.3,3.2, .3,.3,.3,3.2,3.4,3.4,.3,.3,3.2,2.8,.3,3.4, .3,.3,.3,3.4,3,3,.3,.3,3.6,2.8,.3,3.4, .3,.3,.3,3,3,3,.3,.3,3,2.8,.3,3.2, .3,.3,.3,3.2,3.4,3.2,.3,3.2,2.8,.3,3.2],
[.3,.3,.3,3,3.2,3,.3,.3,2.4,2.2,.3,3.2, .3,.3,.3,3.8,3.8,3.6,.3,.3,3.4,3.2,.3,3.6, .3,.3,.3,3.6,3.6,3.4,.3,.3,4,3,.3,3.6, .3,.3,.3,3.4,3.2,3.4,.3,.3,2.4,2.2,.3,3, .3,.3,.3,3.4,3.8,3.4,.3,3.4,3,.3,3.4],
[.3,.3,.3,4.8,4.8,4.8,.3,.3,4.4,4,.3,5, .3,.3,.3,5.4,5.4,5,.3,.3,5.2,5,.3,5.2, .3,.3,.3,5.4,5.4,5,.3,.3,5.8,4.8,.3,5.2, .3,.3,.3,5,5.2,5.2,.3,.3,4.8,4.4,.3,4.8, .3,.3,.3,5.2,5.2,5,.3,5.2,5,.3,5.2],
[.3,.3,.3,3.4,3.8,3.8,.3,.3,3.4,3,1,4.2, .4,.3,.3,4.4,4.4,3.8,.3,.3,4.6,4.2,.6,4.2, .4,.3,.3,4.2,4.2,4.2,.4,.3,5,4.2,.6,4.4, .5,.3,.3,4.4,4.4,4.4,.4,.3,4.4,3.8,.8,4.4, .3,.3,.3,4.6,4.6,4.4,.3,4.6,4.2,.6,4.6]
];
const tissueNames = ["Stomach","Rectum","Jejunum","Cecum","Colon"];
const tissueSampleCounts = [12,12,12,12,11];
const tissueColors = ["#e8a4a6","#f0c27c","#6fa6cd","#cfdcac","#c9a6cd"];
/* Dendrogram: [childA, childB, height]; a number child is a row index, a nested array is a subtree. */
const geneTree = [0,[[1,2,7],[[3,[4,[5,6,18],23],33],[[7,[8,[9,[10,11,7],18],31],41],[12,[[13,[14,15,1],3],[16,17,8],21],57],63],74],89],168];

const svgNS = "http://www.w3.org/2000/svg";
const rampStops = [[69,117,180],[130,178,213],[213,234,243],[251,249,193],[252,220,144],[246,144,93],[214,56,43]];
function rampColor(t){
  const c = Math.max(-1, Math.min(1, t));
  const p = (c + 1) / 2 * 6;
  const i = Math.min(5, Math.floor(p));
  const f = p - i;
  const m = [0,1,2].map(function(k){ return Math.round(rampStops[i][k] + (rampStops[i+1][k] - rampStops[i][k]) * f); });
  return "rgb(" + m.join(",") + ")";
}
function make(parent, tag, attrs, text){
  const el = document.createElementNS(svgNS, tag);
  for (const k in attrs) el.setAttribute(k, attrs[k]);
  if (text !== undefined) el.textContent = text;
  parent.appendChild(el);
  return el;
}
function bandScale(start, end, n){
  const step = (end - start) / n;
  return function(i){ return start + i * step; };
}
function linearScale(d0, d1, r0, r1){
  return function(v){ return r0 + (v - d0) / (d1 - d0) * (r1 - r0); };
}
function drawLegend(g, box, titleText, italicPart, ticks, tickLabels){
  const bar = make(g, "rect", {x: box.x, y: box.top, width: box.w, height: box.bottom - box.top, fill: "url(#ramp)"});
  
  
  const y = linearScale(box.max, box.min, box.top, box.bottom);
  ticks.forEach(function(v, i){
    const t = make(g, "text", {class: "tick", x: box.x + box.w + box.labelGap, y: y(v)}, tickLabels[i]);
    
    
  });
  const tt = make(g, "text", {class: "ltitle", x: 0, y: 0, transform: "translate(" + box.titleX + "," + box.titleY + ") rotate(-90)", "dominant-baseline": "central"}, titleText);
  
  
  if (italicPart) {
    const s = make(tt, "tspan", {"font-style": "italic"}, italicPart);
    
    
  }
}
function drawCorrelationPanel(cfg){
  const g = document.getElementById(cfg.id);
  const x = bandScale(cfg.left, cfg.right, cfg.labels.length);
  const y = bandScale(cfg.top, cfg.bottom, genes.length);
  const cw = (cfg.right - cfg.left) / cfg.labels.length;
  const ch = (cfg.bottom - cfg.top) / genes.length;
  cfg.values.forEach(function(row, r){
    row.forEach(function(v, c){
      const cell = make(g, "rect", {x: x(c), y: y(r), width: cw, height: ch, fill: rampColor(v * cfg.unit / cfg.limit), stroke: "#a8a8a8", "stroke-width": 1});
      
      
    });
  });
  cfg.stars.forEach(function(s){
    const st = make(g, "text", {class: "star", x: x(s[1]) + cw / 2, y: y(s[0]) + ch / 2 + 11.6 + cfg.starDy}, s[2] === 2 ? "**" : "*");
    
    
  });
  genes.forEach(function(name, r){
    const t = make(g, "text", {class: "rowl", x: cfg.right + 4.2, y: y(r) + ch / 2 - 1}, name);
    
    
  });
  cfg.labels.forEach(function(name, c){
    const px = x(c) + cw / 2, py = cfg.bottom + cfg.labelGap;
    const t = make(g, "text", {class: "coll", x: px, y: py, transform: "rotate(90 " + px + " " + py + ")"}, name);
    
    
  });
  drawLegend(g, cfg.legend, "Spearman's ", "r", cfg.ticks, cfg.tickLabels);
}
const panels = [
 {id:"panel-stomach", values:stomachValues, stars:stomachStars, labels:metabolites, unit:.1, limit:.8, left:18.4, right:607.3, top:45.8, bottom:643.7, starDy:0, labelGap:4.5,
  ticks:[.5,0,-.5], tickLabels:["0.5","0","\u22120.5"], legend:{x:845.5,w:10.5,top:48,bottom:206,min:-.845,max:.795,labelGap:5,titleX:834,titleY:126}},
 {id:"panel-jejunum", values:jejunumValues, stars:jejunumStars, labels:metabolitesWrapped, unit:.1, limit:.8, left:913, right:1502.7, top:45.8, bottom:643.7, starDy:0, labelGap:4.5,
  ticks:[.5,0,-.5], tickLabels:["0.5","0","\u22120.5"], legend:{x:1774,w:11,top:48,bottom:206.5,min:-.82,max:.815,labelGap:4,titleX:1762,titleY:128}},
 {id:"panel-cecum", values:cecumValues, stars:cecumStars, labels:metabolites, unit:.1, limit:.8, left:18.4, right:607.3, top:897.9, bottom:1495.5, starDy:-6, labelGap:4.5,
  ticks:[.5,0,-.5], tickLabels:["0.5","0","\u22120.5"], legend:{x:845.5,w:10.5,top:900.4,bottom:1058.7,min:-.773,max:.814,labelGap:5,titleX:834,titleY:980}},
 {id:"panel-colon", values:colonValues, stars:colonStars, labels:metabolites, unit:.125, limit:1, left:914.8, right:1504, top:897.9, bottom:1495.5, starDy:0, labelGap:4.5,
  ticks:[1,0,-1], tickLabels:["1","0","\u22121"], legend:{x:1774,w:11,top:900.4,bottom:1058.7,min:-1.03,max:1.07,labelGap:4,titleX:1762,titleY:980}},
 {id:"panel-rectum", values:rectumValues, stars:rectumStars, labels:metabolites, unit:.1, limit:.8, left:18.4, right:607.3, top:1745.5, bottom:2344, starDy:0, labelGap:5.5,
  ticks:[.5,0,-.5], tickLabels:["0.5","0","\u22120.5"], legend:{x:845.5,w:10.5,top:1746.3,bottom:1905,min:-.845,max:.83,labelGap:5,titleX:834,titleY:1824}}
];
panels.forEach(drawCorrelationPanel);

(function drawExpression(){
  const g = document.getElementById("panel-expression");
  const left = 970, right = 1541.3, top = 1826.4, bottom = 2210.7;
  const nCols = expressionValues[0].length;
  const x = bandScale(left, right, nCols);
  const y = bandScale(top, bottom, expressionGenes.length);
  const cw = (right - left) / nCols, ch = (bottom - top) / expressionGenes.length;
  const mid = 5.45, floor = 0.4;
  expressionValues.forEach(function(row, r){
    row.forEach(function(v, c){
      const t = v < mid ? (v - mid) / (mid - floor) : (v - mid) / mid;
      const cell = make(g, "rect", {x: x(c), y: y(r), width: cw, height: ch, fill: rampColor(t), stroke: "#a8a8a8", "stroke-width": 1});
      
      
    });
  });
  expressionGenes.forEach(function(name, r){
    const t = make(g, "text", {class: "rowl", x: right + 4, y: y(r) + ch / 2 - 2}, name);
    
    
  });
  let start = 0;
  const barTop = bottom, barH = 13.6;
  const labelCenters = [-3, -0.5, -1, -2.6, -1];
  tissueNames.forEach(function(name, i){
    const n = tissueSampleCounts[i];
    const b = make(g, "rect", {x: x(start), y: barTop, width: n * cw, height: barH, fill: tissueColors[i]});
    
    
    const t = make(g, "text", {class: "group", x: x(start) + n * cw / 2 + labelCenters[i], y: 2243}, name);
    
    
    start += n;
  });
  const hx = function(h){ return left - 0.5 - h / 3; };
  function drawNode(node){
    if (typeof node === "number") return {y: y(node) + ch / 2, x: left};
    const a = drawNode(node[0]), b = drawNode(node[1]);
    const nx = hx(node[2]);
    const d = "M" + a.x + " " + a.y + "H" + nx + "V" + b.y + "H" + b.x;
    const p = make(g, "path", {d: d, fill: "none", stroke: "#555", "stroke-width": 1.1});
    
    
    return {y: (a.y + b.y) / 2, x: nx};
  }
  drawNode(geneTree);
  drawLegend(g, {x:1780,w:10.7,top:1745.7,bottom:1897,min:-.3,max:10.87,labelGap:2,titleX:1769,titleY:1817}, "Expression level", "", [10,6,0], ["10","6","0"]);
})();
</script>
</body>
</html>
